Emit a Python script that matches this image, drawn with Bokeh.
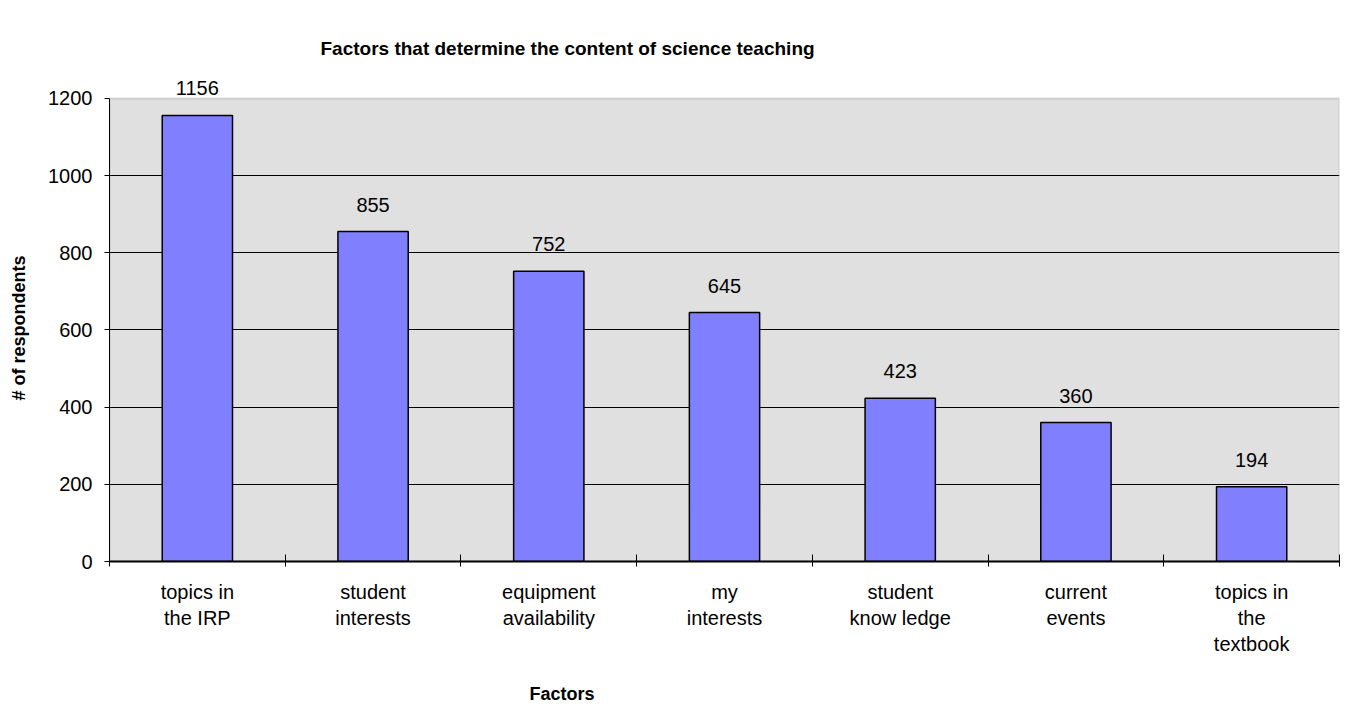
from bokeh.plotting import figure
from bokeh.models import (ColumnDataSource, FactorRange, Range1d, LinearAxis, CategoricalAxis,
                          FixedTicker, Title, LabelSet, CustomLabelingPolicy, BoxAnnotation)
from bokeh.core.properties import value
from bokeh.embed import file_html
from bokeh.resources import INLINE

# ---- data ----
categories = ["topics in\nthe IRP", "student\ninterests", "equipment\navailability", "my\ninterests",
              "student\nknow ledge", "current\nevents", "topics in\nthe\ntextbook"]
respondents = [1156, 855, 752, 645, 423, 360, 194]
y_ticks = [0, 200, 400, 600, 800, 1000, 1200]
y_max = 1200
title_text = "Factors that determine the content of science teaching"
x_label = "Factors"
y_label = "# of respondents"

FONT = "Liberation Sans"

src = ColumnDataSource(dict(cat=categories, val=respondents, lab=[str(v) for v in respondents]))

# the frame extends a little above the 1200 line so the "1156" label is not clipped
p = figure(width=1340, height=704, output_backend="svg", toolbar_location=None,
           x_range=FactorRange(factors=categories, range_padding=0),
           y_range=Range1d(0, 1262),
           x_axis_location=None,
           min_border_left=109, min_border_top=74, min_border_right=1, min_border_bottom=143)

p.background_fill_color = "white"
p.border_fill_color = "white"
p.outline_line_color = None

# plot area (0..1200) background and border
bg = BoxAnnotation(bottom=0, top=y_max, fill_color="#E0E0E0", fill_alpha=1, line_color=None,
                   level="image")
p.add_layout(bg)
border = BoxAnnotation(bottom=0, top=y_max, fill_alpha=0, line_color="#8C8C8C", line_width=2,
                       level="underlay")
p.add_layout(border)

# bars
p.vbar(x="cat", top="val", width=0.4, source=src, fill_color="#8080FF",
       line_color="black", line_width=1.5)
labels = LabelSet(x="cat", y="val", text="lab", source=src, text_align="center",
                  text_baseline="middle", y_offset=27, text_font_size="20px",
                  text_color="black", text_font=value(FONT))
p.add_layout(labels)

no_labels = """
    for (const i of Array.from(indices)) indices.unset(i)
    return indices
"""

def spacer(size):
    # invisible axis used only to reserve space in a side panel
    ax = LinearAxis(ticker=FixedTicker(ticks=[0]))
    ax.axis_line_color = None
    ax.major_tick_line_color = None
    ax.minor_tick_line_color = None
    ax.major_tick_in = 0
    ax.minor_tick_in = 0
    ax.major_tick_out = size
    ax.minor_tick_out = 0
    ax.major_label_standoff = 0
    ax.major_label_text_font_size = "1px"
    ax.major_label_policy = CustomLabelingPolicy(code=no_labels)
    return ax

# y axis
ya = p.yaxis[0]
ya.ticker = FixedTicker(ticks=y_ticks)
ya.bounds = (0, y_max)
ya.axis_line_color = "black"
ya.axis_line_width = 1
ya.major_tick_in = 0
ya.major_tick_out = 5
ya.minor_tick_line_color = None
ya.minor_tick_out = 0
ya.major_tick_line_color = "black"
ya.major_label_standoff = 12
ya.major_label_text_font = FONT
ya.major_label_text_font_size = "20px"
ya.major_label_text_color = "black"
p.add_layout(spacer(13), "left")
yt = Title(text=y_label, align="left", offset=161, text_font=FONT, text_font_size="18px",
           text_font_style="bold", text_color="black", standoff=0)
p.add_layout(yt, "left")

p.ygrid.grid_line_color = "black"
p.ygrid.grid_line_width = 1
p.ygrid.ticker = FixedTicker(ticks=y_ticks[1:-1])
p.xgrid.grid_line_color = None

# boundary ticks on x (between categories), no labels
tick_axis = LinearAxis(ticker=FixedTicker(ticks=list(range(len(categories) + 1))))
tick_axis.axis_line_color = "black"
tick_axis.axis_line_width = 2
tick_axis.major_tick_in = 7
tick_axis.major_tick_out = 5
tick_axis.minor_tick_out = 0
tick_axis.major_tick_line_color = "black"
tick_axis.minor_tick_line_color = None
tick_axis.major_label_standoff = 0
tick_axis.major_label_text_font_size = "1px"
tick_axis.major_label_policy = CustomLabelingPolicy(code=no_labels)
p.add_layout(tick_axis, "below")

cat_axis = CategoricalAxis()
cat_axis.axis_line_color = None
cat_axis.major_tick_line_color = None
cat_axis.minor_tick_line_color = None
cat_axis.major_tick_out = 0
cat_axis.minor_tick_out = 0
cat_axis.major_label_standoff = 10
cat_axis.major_label_text_font = FONT
cat_axis.major_label_text_font_size = "20px"
cat_axis.major_label_text_color = "black"
cat_axis.major_label_text_line_height = 1.2
p.add_layout(cat_axis, "below")

p.add_layout(spacer(19), "below")
xt = Title(text=x_label, align="left", offset=420, text_font=FONT, text_font_size="18px",
           text_font_style="bold", text_color="black", standoff=0)
p.add_layout(xt, "below")

# chart title
t = Title(text=title_text, align="left", offset=211, text_font=FONT, text_font_size="19px",
          text_font_style="bold", text_color="black", standoff=32)
p.add_layout(t, "above")

open("out.html", "w").write(file_html(p, INLINE))
